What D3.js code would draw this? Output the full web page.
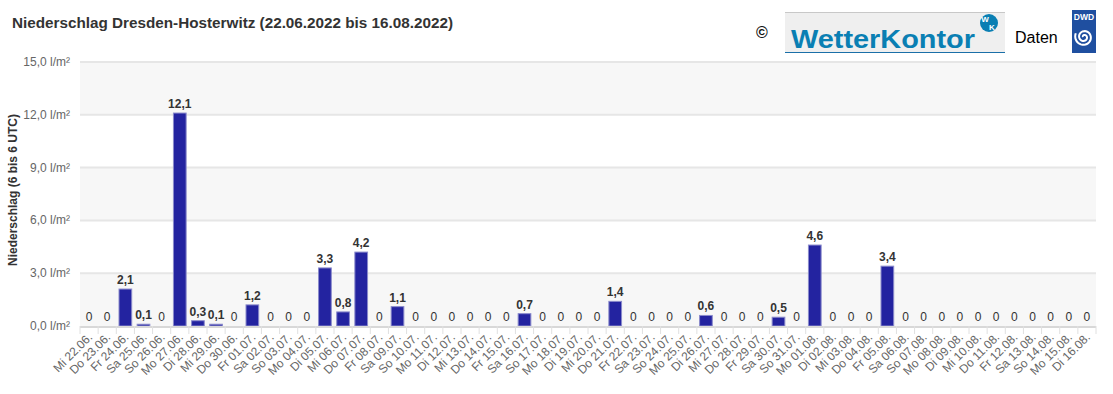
<!DOCTYPE html>
<html><head><meta charset="utf-8">
<script src="https://cdn.jsdelivr.net/npm/d3@7"></script>
<style>
html,body{margin:0;padding:0;background:#fff;}
svg{display:block;font-family:"Liberation Sans",Arial,sans-serif;}
</style></head>
<body><svg id="c" width="1113" height="394"></svg>
<script>
const dayLabels = ["Mi 22.06.","Do 23.06.","Fr 24.06.","Sa 25.06.","So 26.06.","Mo 27.06.","Di 28.06.","Mi 29.06.","Do 30.06.",
"Fr 01.07.","Sa 02.07.","So 03.07.","Mo 04.07.","Di 05.07.","Mi 06.07.","Do 07.07.","Fr 08.07.","Sa 09.07.","So 10.07.",
"Mo 11.07.","Di 12.07.","Mi 13.07.","Do 14.07.","Fr 15.07.","Sa 16.07.","So 17.07.","Mo 18.07.","Di 19.07.","Mi 20.07.",
"Do 21.07.","Fr 22.07.","Sa 23.07.","So 24.07.","Mo 25.07.","Di 26.07.","Mi 27.07.","Do 28.07.","Fr 29.07.","Sa 30.07.",
"So 31.07.","Mo 01.08.","Di 02.08.","Mi 03.08.","Do 04.08.","Fr 05.08.","Sa 06.08.","So 07.08.","Mo 08.08.","Di 09.08.",
"Mi 10.08.","Do 11.08.","Fr 12.08.","Sa 13.08.","So 14.08.","Mo 15.08.","Di 16.08."];
const precip = [0,0,2.1,0.1,0,12.1,0.3,0.1,0,
1.2,0,0,0,3.3,0.8,4.2,0,1.1,0,
0,0,0,0,0,0.7,0,0,0,0,
1.4,0,0,0,0,0.6,0,0,0,0.5,
0,4.6,0,0,0,3.4,0,0,0,0,
0,0,0,0,0,0,0];
const yTicks = [0,3,6,9,12,15];
const titleText = "Niederschlag Dresden-Hosterwitz (22.06.2022 bis 16.08.2022)";
const yTitle = "Niederschlag (6 bis 6 UTC)";

const svg = d3.select("#c");
const L = 80, R = 1096, T = 62, B = 326;
const x = d3.scaleBand().domain(dayLabels).range([L, R]).paddingInner(0.3).paddingOuter(0.15);
const xb = d3.scaleBand().domain(dayLabels).range([L, R]);
const y = d3.scaleLinear().domain([0, 15]).range([B, T]);
const fmt = v => d3.format(".1f")(v).replace(".", ",");

// plot bands (alternating)
for (let i = 0; i < yTicks.length - 1; i++) {
  svg.append("rect").attr("x", L).attr("width", R - L)
    .attr("y", y(yTicks[i+1])).attr("height", y(yTicks[i]) - y(yTicks[i+1]))
    .attr("fill", i % 2 === 0 ? "#f7f7f7" : "#ffffff");
}
// gridlines
svg.append("g").selectAll("line").data(yTicks.slice(1)).join("line")
  .attr("x1", L).attr("x2", R).attr("y1", d => y(d)).attr("y2", d => y(d))
  .attr("stroke", "#e6e6e6").attr("stroke-width", 2);

// y labels
svg.append("g").selectAll("text").data(yTicks).join("text")
  .attr("x", 70).attr("y", d => y(d) + 4).attr("text-anchor", "end")
  .attr("font-size", 12).attr("fill", "#666").text(d => fmt(d) + " l/m²");

// y title
svg.append("text").attr("transform", `translate(17,${(T+B)/2 - 4}) rotate(-90)`)
  .attr("text-anchor", "middle").attr("font-size", 12).attr("font-weight", "bold")
  .attr("fill", "#333").text(yTitle);

// bars
svg.append("g").selectAll("rect").data(precip).join("rect")
  .attr("x", (d, i) => x(dayLabels[i])).attr("width", x.bandwidth())
  .attr("y", d => y(d)).attr("height", d => B - y(d))
  .attr("fill", "#2323a0").attr("stroke", "#8a8acb").attr("stroke-width", 1);

// x axis line + ticks
svg.append("line").attr("x1", L).attr("x2", R).attr("y1", B + 1).attr("y2", B + 1)
  .attr("stroke", "#d8d8d8").attr("stroke-width", 2);
const tickPos = dayLabels.map(d => xb(d)).concat([R]);
svg.append("g").selectAll("line").data(tickPos).join("line")
  .attr("x1", d => d).attr("x2", d => d).attr("y1", B).attr("y2", B + 8)
  .attr("stroke", "#e0e0e0").attr("stroke-width", 1);

// x labels
svg.append("g").selectAll("text").data(dayLabels).join("text")
  .attr("transform", d => `translate(${xb(d) + xb.bandwidth()/2 + 4},${B + 12}) rotate(-45)`)
  .attr("text-anchor", "end").attr("font-size", 12).attr("fill", "#666").text(d => d);

// data labels
svg.append("g").selectAll("text").data(precip).join("text")
  .attr("x", (d, i) => xb(dayLabels[i]) + xb.bandwidth()/2).attr("y", d => y(d) - 5)
  .attr("text-anchor", "middle").attr("font-size", 12)
  .attr("font-weight", d => d === 0 ? "normal" : "bold")
  .attr("fill", "#333").text(d => d === 0 ? "0" : fmt(d));

// title
svg.append("text").attr("x", 12).attr("y", 28).attr("font-size", 15).attr("font-weight", "bold")
  .attr("fill", "#333").attr("textLength", 441).attr("lengthAdjust", "spacingAndGlyphs").text(titleText);

// copyright + logo
svg.append("text").attr("x", 756).attr("y", 38).attr("font-size", 16).attr("font-weight", "bold").attr("fill", "#111").text("©");
const lg = svg.append("g");
lg.append("rect").attr("x", 785).attr("y", 12).attr("width", 220).attr("height", 41).attr("fill", "#efefef");
lg.append("line").attr("x1", 785).attr("x2", 1005).attr("y1", 12.5).attr("y2", 12.5).attr("stroke", "#c8c8c8");
lg.append("line").attr("x1", 785).attr("x2", 1005).attr("y1", 52.5).attr("y2", 52.5).attr("stroke", "#1a6fa8");
lg.append("text").attr("x", 791).attr("y", 48).attr("font-size", 25).attr("font-weight", "bold")
  .attr("fill", "#0a7fb3").attr("textLength", 184).attr("lengthAdjust", "spacingAndGlyphs").text("WetterKontor");
lg.append("circle").attr("cx", 989).attr("cy", 23).attr("r", 9).attr("fill", "#0a7fb3");
lg.append("text").attr("x", 985).attr("y", 22).attr("font-size", 8).attr("font-weight", "bold").attr("fill", "#fff").attr("text-anchor", "middle").text("W");
lg.append("text").attr("x", 992).attr("y", 30).attr("font-size", 8).attr("font-weight", "bold").attr("fill", "#fff").attr("text-anchor", "middle").text("K");

svg.append("text").attr("x", 1015).attr("y", 43).attr("font-size", 16).attr("fill", "#000").text("Daten");
const dg = svg.append("g");
dg.append("rect").attr("x", 1072).attr("y", 10).attr("width", 24).attr("height", 43).attr("fill", "#1f4fa0");
dg.append("text").attr("x", 1084).attr("y", 20).attr("font-size", 8.5).attr("font-weight", "bold").attr("fill", "#fff").attr("text-anchor", "middle").text("DWD");
// spiral emblem
const spiral = d3.range(0, 4.2 * Math.PI, 0.2).map(t => {
  const r = 1 + t * 0.62;
  return [1084 + r * Math.cos(t + Math.PI), 37 + r * Math.sin(t + Math.PI)];
});
dg.append("path").attr("d", d3.line()(spiral)).attr("fill", "none").attr("stroke", "#fff").attr("stroke-width", 2);
</script></body></html>
